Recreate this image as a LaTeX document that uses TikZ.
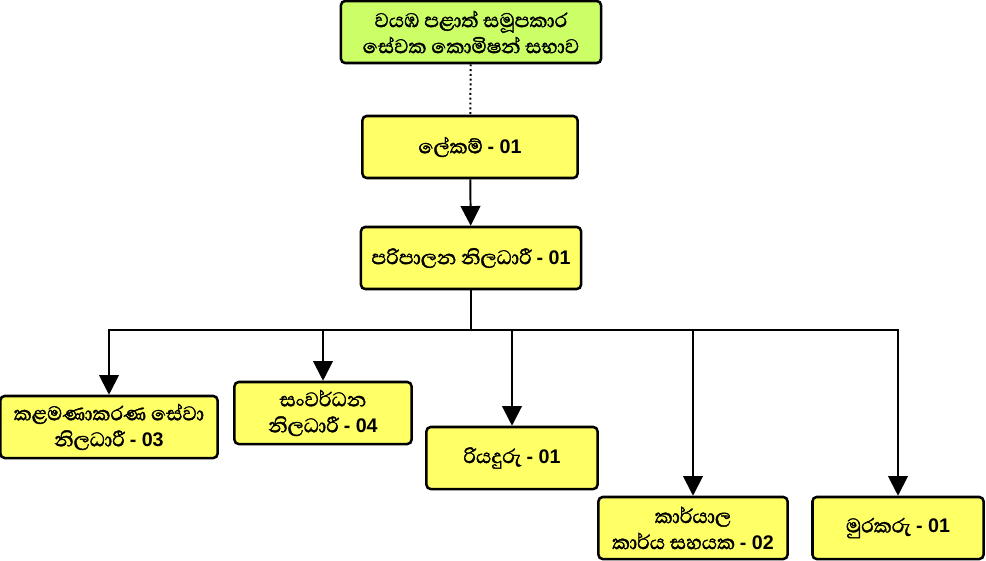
\documentclass[tikz,border=0pt]{standalone}
\usepackage{fontspec}
\setmainfont{Liberation Sans}
\newfontfamily\sinhala[Script=Sinhala, Scale=1.28, FakeBold=1.6]{Abhaya Libre}
\usetikzlibrary{arrows.meta}

\definecolor{boardgreen}{RGB}{204,255,102}
\definecolor{postyellow}{RGB}{255,255,102}
\newcommand\postcount[1]{{\rmfamily\bfseries - #1}}

\begin{document}
\begin{tikzpicture}[%
    x=0.025cm, y=-0.025cm,
    box/.style={draw, line width=1.8pt, rounded corners=3pt, align=center,
        minimum height=1.55cm, inner sep=2pt,
        font=\sinhala\fontsize{14}{18.5}\selectfont},
    board/.style={box, fill=boardgreen, minimum width=6.5cm},
    post/.style={box, fill=postyellow},
    link/.style={line width=1.4pt},
    arrow/.style={-{Triangle[length=14pt,width=14pt]}}]
  \useasboundingbox (0,0) rectangle (986,560);
  \node[board] (board) at (471,32) {වයඹ පළාත් සමූපකාර\\සේවක කොමිෂන් සභාව};
  \node[post, minimum width=5.375cm] (secretary) at (470,147) {ලේකම් \postcount{01}};
  \node[post, minimum width=5.5cm] (admin) at (471,258) {පරිපාලන නිලධාරී \postcount{01}};
  \node[post, minimum width=5.425cm] (mgmt) at (109,427) {කළමණාකරණ සේවා\\නිලධාරී \postcount{03}};
  \node[post, minimum width=4.425cm] (devel) at (323,413) {සංවර්ධන\\නිලධාරී \postcount{04}};
  \node[post, minimum width=4.275cm] (driver) at (512,458) {රියදුරු \postcount{01}};
  \node[post, minimum width=4.725cm] (office) at (693,528) {කාර්යාල\\කාර්ය සහයක \postcount{02}};
  \node[post, minimum width=4.275cm] (guard) at (898,528) {මුරකරු \postcount{01}};
  \coordinate (bus) at (471,330);

  \draw[link, dotted] (board) -- (secretary);
  \draw[link, arrow] (secretary) -- (admin);
  \draw[link] (admin) -- (bus);
  \draw[link, arrow] (bus) -| (mgmt);
  \draw[link, arrow] (bus) -| (guard);
  \foreach \post in {devel,driver,office}
    \draw[link, arrow] (\post |- bus) -- (\post);
\end{tikzpicture}
\end{document}
